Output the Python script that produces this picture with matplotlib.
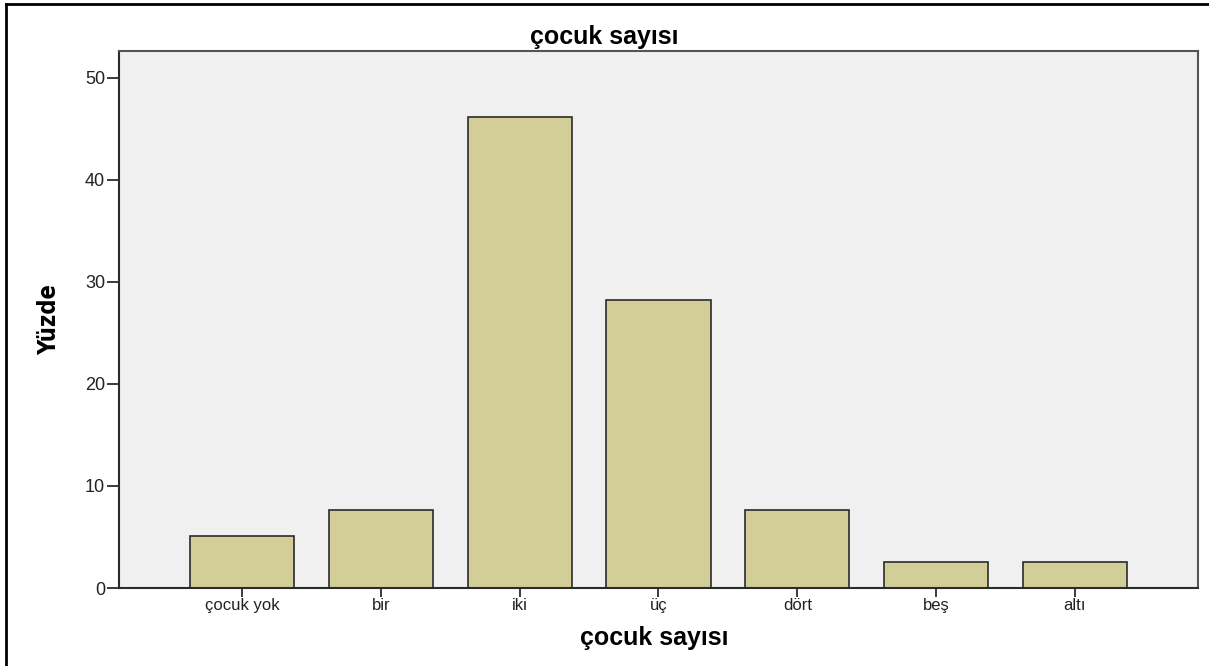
import matplotlib.pyplot as plt
from matplotlib.lines import Line2D
import numpy as np

# data (percent of respondents)
categories = ['çocuk yok', 'bir', 'iki', 'üç', 'dört', 'beş', 'altı']
yuzde = [5.13, 7.69, 46.15, 28.21, 7.69, 2.56, 2.56]
yticks = [0, 10, 20, 30, 40, 50]

plt.rcParams['font.family'] = ['Liberation Sans', 'DejaVu Sans']

fig = plt.figure(figsize=(12.09, 6.66), dpi=100)
ax = fig.add_axes([0.0984, 0.1171, 0.8925, 0.8063])

x = np.arange(len(categories))
ax.bar(x, yuzde, width=0.75, color='#D3CE97', edgecolor='#2b2b2b', linewidth=1.2, zorder=2)

ax.set_facecolor('#F0F0F0')
ax.set_xlim(-0.886, len(categories) - 1 + 0.886)
ax.set_ylim(0, 52.6)
ax.set_yticks(yticks)
ax.set_xticks(x)
ax.set_xticklabels(categories)

for s in ax.spines.values():
    s.set_color('#2b2b2b')
    s.set_linewidth(1.5)
ax.spines['top'].set_color('#555555')
ax.spines['right'].set_color('#555555')

ax.tick_params(axis='y', length=9, width=1.3, color='#2b2b2b', labelsize=13, labelcolor='#222222', pad=1)
ax.tick_params(axis='x', length=6.5, width=1.3, color='#2b2b2b', labelsize=12, labelcolor='#222222', pad=1)

# title is centred on the whole figure, not the plot area
fig.text(0.5, 1 - 37 / 666, 'çocuk sayısı', fontsize=18, fontweight='bold', ha='center', va='center')
ax.set_xlabel('çocuk sayısı', fontsize=18, fontweight='bold')
ax.xaxis.set_label_coords(0.496, -0.07)
ax.set_ylabel('Yüzde', fontsize=17, fontweight='bold', family=['DejaVu Sans'], fontstretch='condensed')
ax.yaxis.set_label_coords(-0.054, 0.5)

# outer frame (top and left visible)
fig.add_artist(Line2D([6 / 1209, 6 / 1209], [0, 1 - 4 / 666], transform=fig.transFigure, color='black', lw=2))
fig.add_artist(Line2D([6 / 1209, 1], [1 - 4 / 666, 1 - 4 / 666], transform=fig.transFigure, color='black', lw=2))

plt.savefig('out.png', dpi=100)
